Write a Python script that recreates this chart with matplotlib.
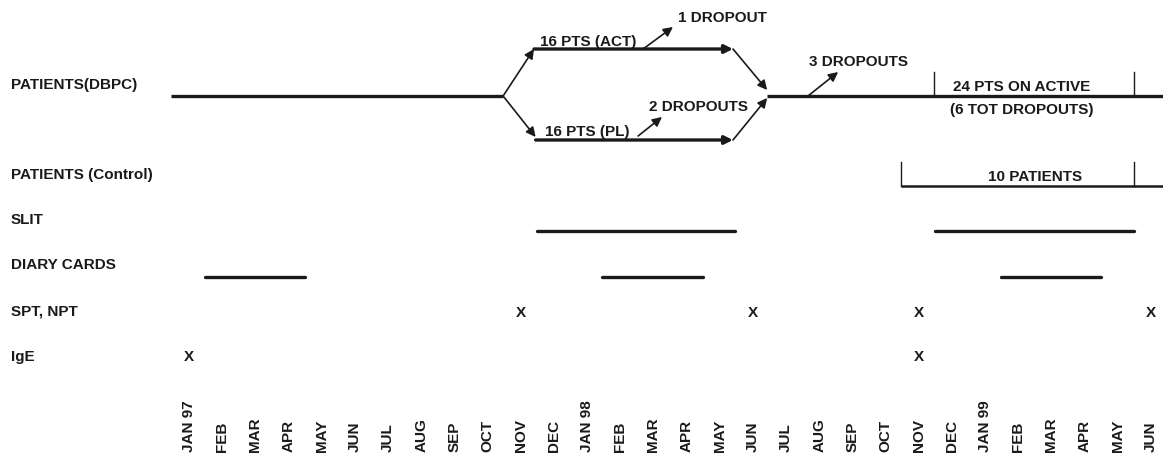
import matplotlib.pyplot as plt

plt.rcParams['font.family'] = ['Liberation Sans', 'DejaVu Sans']

# month axis: 0 = JAN 97 ... 29 = JUN 99
months = ['JAN 97', 'FEB', 'MAR', 'APR', 'MAY', 'JUN', 'JUL', 'AUG', 'SEP', 'OCT',
          'NOV', 'DEC', 'JAN 98', 'FEB', 'MAR', 'APR', 'MAY', 'JUN', 'JUL', 'AUG',
          'SEP', 'OCT', 'NOV', 'DEC', 'JAN 99', 'FEB', 'MAR', 'APR', 'MAY', 'JUN']

row_labels = ['PATIENTS(DBPC)', 'PATIENTS (Control)', 'SLIT', 'DIARY CARDS', 'SPT, NPT', 'IgE']
row_label_y = [85, 175, 220, 265, 312, 357]

# DBPC phase (month positions)
dbpc_start, dbpc_split, dbpc_branch, dbpc_join_start, dbpc_merge = -0.55, 9.47, 10.4, 16.4, 17.43
dbpc_ticks = [22.45, 28.48]
control_start = 21.47
control_ticks = [21.47, 28.48]

slit_periods = [(10.5, 16.45), (22.48, 28.5)]
diary_periods = [(0.48, 3.5), (12.45, 15.5), (24.48, 27.5)]
spt_months = [10, 17, 22, 29]
ige_months = [0, 22]

# dropout arrows: (x0, x1) in months
act_drop = (13.69, 14.59)
pl_drop = (13.54, 14.26)
all_drop = (18.66, 19.57)

ink = '#1a1a1a'

fig = plt.figure(figsize=(11.63, 4.56), dpi=100)
ax = fig.add_axes([0, 0, 1, 1])
ax.set_xlim(-189 / 33.17, (1163 - 189) / 33.17)
ax.set_ylim(456, 0)
ax.axis('off')

# y levels (pixels)
y_main, y_act, y_pl = 97, 50, 141
y_ctrl, y_slit, y_diary, y_spt, y_ige = 187, 232, 278, 313, 357

fs = 11
for lab, yy in zip(row_labels, row_label_y):
    ax.text(11 / 1163, yy, lab, transform=ax.get_yaxis_transform(), ha='left', va='center',
            fontsize=fs, fontweight='bold', color=ink)

thick = 2.4
thin = 1.2
arrow = dict(arrowstyle='-|>', color=ink, lw=thin, mutation_scale=14, shrinkA=0, shrinkB=0)
arrow_thick = dict(arrowstyle='-|>', color=ink, lw=thick, mutation_scale=12, shrinkA=0, shrinkB=0)

# DBPC main line and branches
ax.plot([dbpc_start, dbpc_split], [y_main, y_main], color=ink, lw=thick, solid_capstyle='butt')
ax.annotate('', xy=(dbpc_branch, y_act), xytext=(dbpc_split, y_main), arrowprops=arrow)
ax.annotate('', xy=(dbpc_branch + 0.05, y_pl - 3), xytext=(dbpc_split, y_main), arrowprops=arrow)
ax.annotate('', xy=(dbpc_join_start, y_act), xytext=(dbpc_branch, y_act), arrowprops=arrow_thick)
ax.annotate('', xy=(dbpc_join_start, y_pl), xytext=(dbpc_branch + 0.05, y_pl), arrowprops=arrow_thick)
ax.annotate('', xy=(dbpc_merge, y_main - 6), xytext=(dbpc_join_start, y_act), arrowprops=arrow)
ax.annotate('', xy=(dbpc_merge, y_main + 2), xytext=(dbpc_join_start, y_pl), arrowprops=arrow)
ax.plot([dbpc_merge, ax.get_xlim()[1]], [y_main, y_main], color=ink, lw=thick, solid_capstyle='butt')
for t in dbpc_ticks:
    ax.plot([t, t], [y_main - 24, y_main], color=ink, lw=1.0)

# dropout arrows
ax.annotate('', xy=(act_drop[1], 28), xytext=(act_drop[0], y_act), arrowprops=arrow)
ax.annotate('', xy=(pl_drop[1], 118), xytext=(pl_drop[0], y_pl - 4), arrowprops=arrow)
ax.annotate('', xy=(all_drop[1], 73), xytext=(all_drop[0], y_main), arrowprops=arrow)

ax.text(12.03, 42, '16 PTS (ACT)', ha='center', va='center', fontsize=fs, fontweight='bold', color=ink)
ax.text(16.07, 18, '1 DROPOUT', ha='center', va='center', fontsize=fs, fontweight='bold', color=ink)
ax.text(12.0, 132, '16 PTS (PL)', ha='center', va='center', fontsize=fs, fontweight='bold', color=ink)
ax.text(15.35, 107, '2 DROPOUTS', ha='center', va='center', fontsize=fs, fontweight='bold', color=ink)
ax.text(20.17, 62, '3 DROPOUTS', ha='center', va='center', fontsize=fs, fontweight='bold', color=ink)
ax.text(25.11, 87, '24 PTS ON ACTIVE', ha='center', va='center', fontsize=fs, fontweight='bold', color=ink)
ax.text(25.11, 110, '(6 TOT DROPOUTS)', ha='center', va='center', fontsize=fs, fontweight='bold', color=ink)

# control group
ax.plot([control_start, ax.get_xlim()[1]], [y_ctrl, y_ctrl], color=ink, lw=1.8, solid_capstyle='butt')
for t in control_ticks:
    ax.plot([t, t], [y_ctrl - 24, y_ctrl], color=ink, lw=1.0)
ax.text(25.5, 177, '10 PATIENTS', ha='center', va='center', fontsize=fs, fontweight='bold', color=ink)

# SLIT and diary periods
for a, b in slit_periods:
    ax.plot([a, b], [y_slit, y_slit], color=ink, lw=thick, solid_capstyle='round')
for a, b in diary_periods:
    ax.plot([a, b], [y_diary, y_diary], color=ink, lw=thick, solid_capstyle='round')

# tests
for m in spt_months:
    ax.text(m, y_spt, 'X', ha='center', va='center', fontsize=fs, fontweight='bold', color=ink)
for m in ige_months:
    ax.text(m, y_ige, 'X', ha='center', va='center', fontsize=fs, fontweight='bold', color=ink)

# month labels
for i, lab in enumerate(months):
    ax.text(i, 452, lab, rotation=90, ha='center', va='bottom', fontsize=11,
            fontweight='bold', color=ink)

fig.savefig('out.png', dpi=100)
